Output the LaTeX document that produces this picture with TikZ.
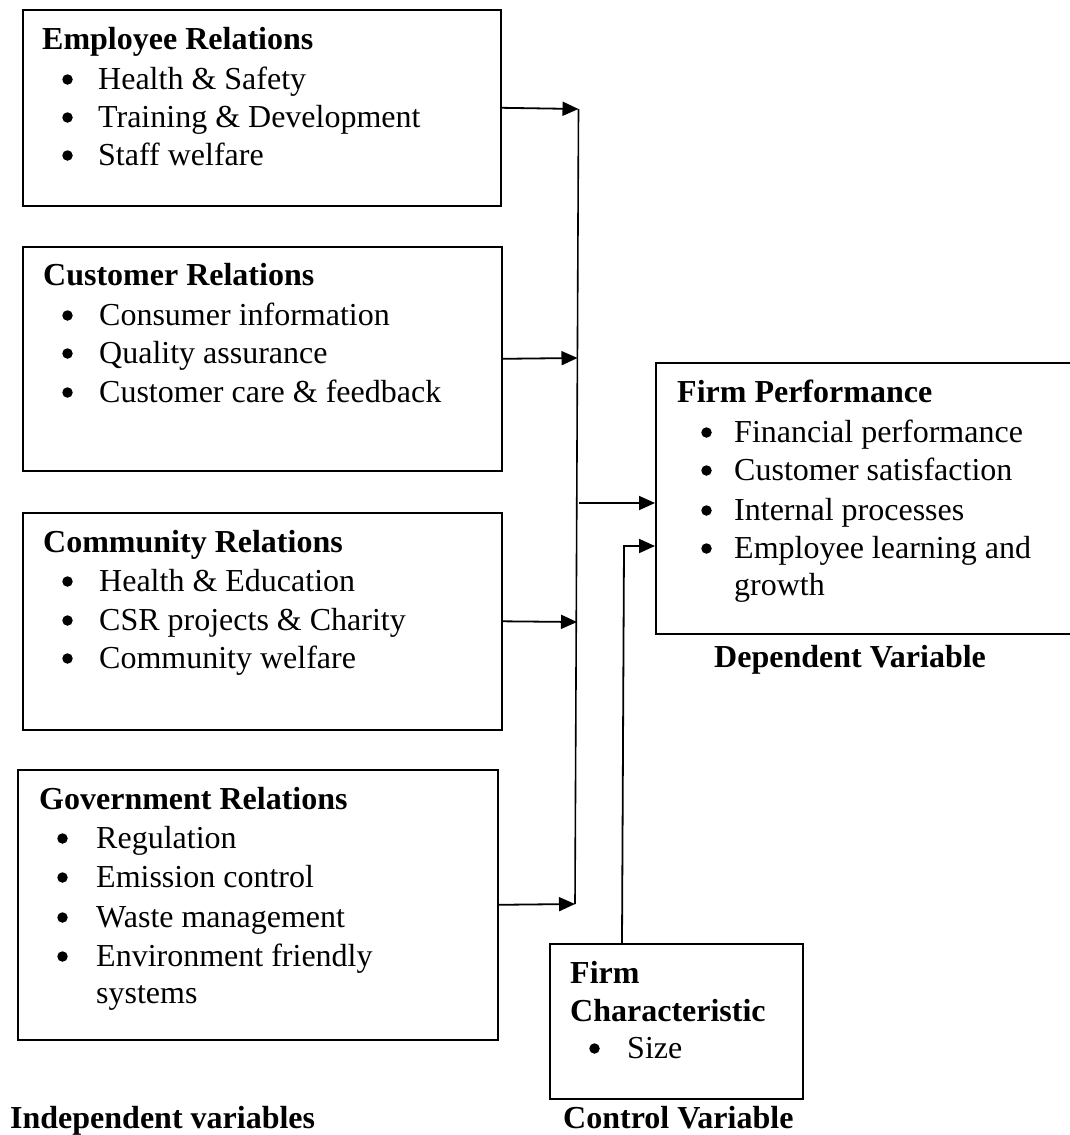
\documentclass[tikz,border=0pt]{standalone}
\usepackage{fontspec}
\setmainfont{Liberation Serif}
\usetikzlibrary{arrows.meta}
\tikzset{
  box/.style={draw, line width=1.6pt, inner sep=0pt, anchor=north west},
  tx/.style={anchor=base west, inner sep=0pt, font=\fontsize{32}{38}\selectfont},
  hd/.style={anchor=base west, inner sep=0pt, font=\fontsize{32}{38}\selectfont\bfseries},
  dot/.style={circle, fill, inner sep=0pt, minimum size=10.5pt},
  arr/.style={line width=1.8pt, -{Triangle[length=16pt,width=14pt]}},
  bus/.style={line width=1.6pt}
}
\newcommand\bitem[5]{%
  \node[dot] (#1b) at (#2,#4-9.5) {};
  \node[tx] (#1) at (#3,#4) {#5};}
\begin{document}
\begin{tikzpicture}[x=1pt,y=-1pt]
\useasboundingbox (0,0) rectangle (1070,1135);
% boxes
\node[box, minimum width=478pt, minimum height=196pt] (emp) at (22,9) {};
\node[box, minimum width=479pt, minimum height=224pt] (cust) at (22,246) {};
\node[box, minimum width=479pt, minimum height=217pt] (comm) at (22,512) {};
\node[box, minimum width=480pt, minimum height=270pt] (gov) at (17,769) {};
\node[box, minimum width=430pt, minimum height=271pt] (fp) at (655,362) {};
\node[box, minimum width=253pt, minimum height=155pt] (ctrl) at (549,943) {};
% Employee
\node[hd] (e0) at (42,49) {Employee Relations};
\bitem{e1}{67.5}{98}{89}{Health \& Safety}
\bitem{e2}{67.5}{98}{127}{Training \& Development}
\bitem{e3}{67.5}{98}{165}{Staff welfare}
% Customer
\node[hd] (c0) at (43,285) {Customer Relations};
\bitem{c1}{67.5}{99}{325}{Consumer information}
\bitem{c2}{67.5}{99}{363}{Quality assurance}
\bitem{c3}{67.5}{99}{402}{Customer care \& feedback}
% Community
\node[hd] (m0) at (43,552) {Community Relations};
\bitem{m1}{67.5}{99}{591}{Health \& Education}
\bitem{m2}{67.5}{99}{630}{CSR projects \& Charity}
\bitem{m3}{67.5}{99}{668}{Community welfare}
% Government
\node[hd] (g0) at (39,809) {Government Relations};
\bitem{g1}{62.5}{96}{848}{Regulation}
\bitem{g2}{62.5}{96}{887}{Emission control}
\bitem{g3}{62.5}{96}{927}{Waste management}
\bitem{g4}{62.5}{96}{966}{Environment friendly}
\node[tx] (g5) at (96,1003) {systems};
% Firm performance
\node[hd] (f0) at (677,402) {Firm Performance};
\bitem{f1}{706.5}{734}{442}{Financial performance}
\bitem{f2}{706.5}{734}{480}{Customer satisfaction}
\bitem{f3}{706.5}{734}{520}{Internal processes}
\bitem{f4}{706.5}{734}{558}{Employee learning and}
\node[tx] (f5) at (734,595) {growth};
% Control
\node[hd] (k0) at (570,983) {Firm};
\node[hd] (k1) at (570,1021) {Characteristic};
\bitem{k2}{594.5}{627}{1058}{Size}
% captions
\node[hd] (dep) at (714,667) {Dependent Variable};
\node[hd] (ind) at (10,1128) {Independent variables};
\node[hd] (con) at (563,1128) {Control Variable};
% connectors
\coordinate (bt) at (578.5,109);
\coordinate (bb) at (575,904);
\coordinate (b2) at (577.5,358);
\coordinate (b4) at (577,622);
\coordinate (o3) at (579,503);
\coordinate (i3) at (655,503);
\coordinate (ks) at (622,943);
\coordinate (kc) at (624,546);
\coordinate (i6) at (655,546);
\draw[bus] (bt) -- (bb);
\draw[arr] (emp.east) -- (bt);
\draw[arr] (cust.east) -- (b2);
\draw[arr] (comm.east) -- (b4);
\draw[arr] (gov.east) -- (bb);
\draw[arr] (o3) -- (i3);
\draw[arr] (ks) -- (kc) -- (i6);
\end{tikzpicture}
\end{document}
